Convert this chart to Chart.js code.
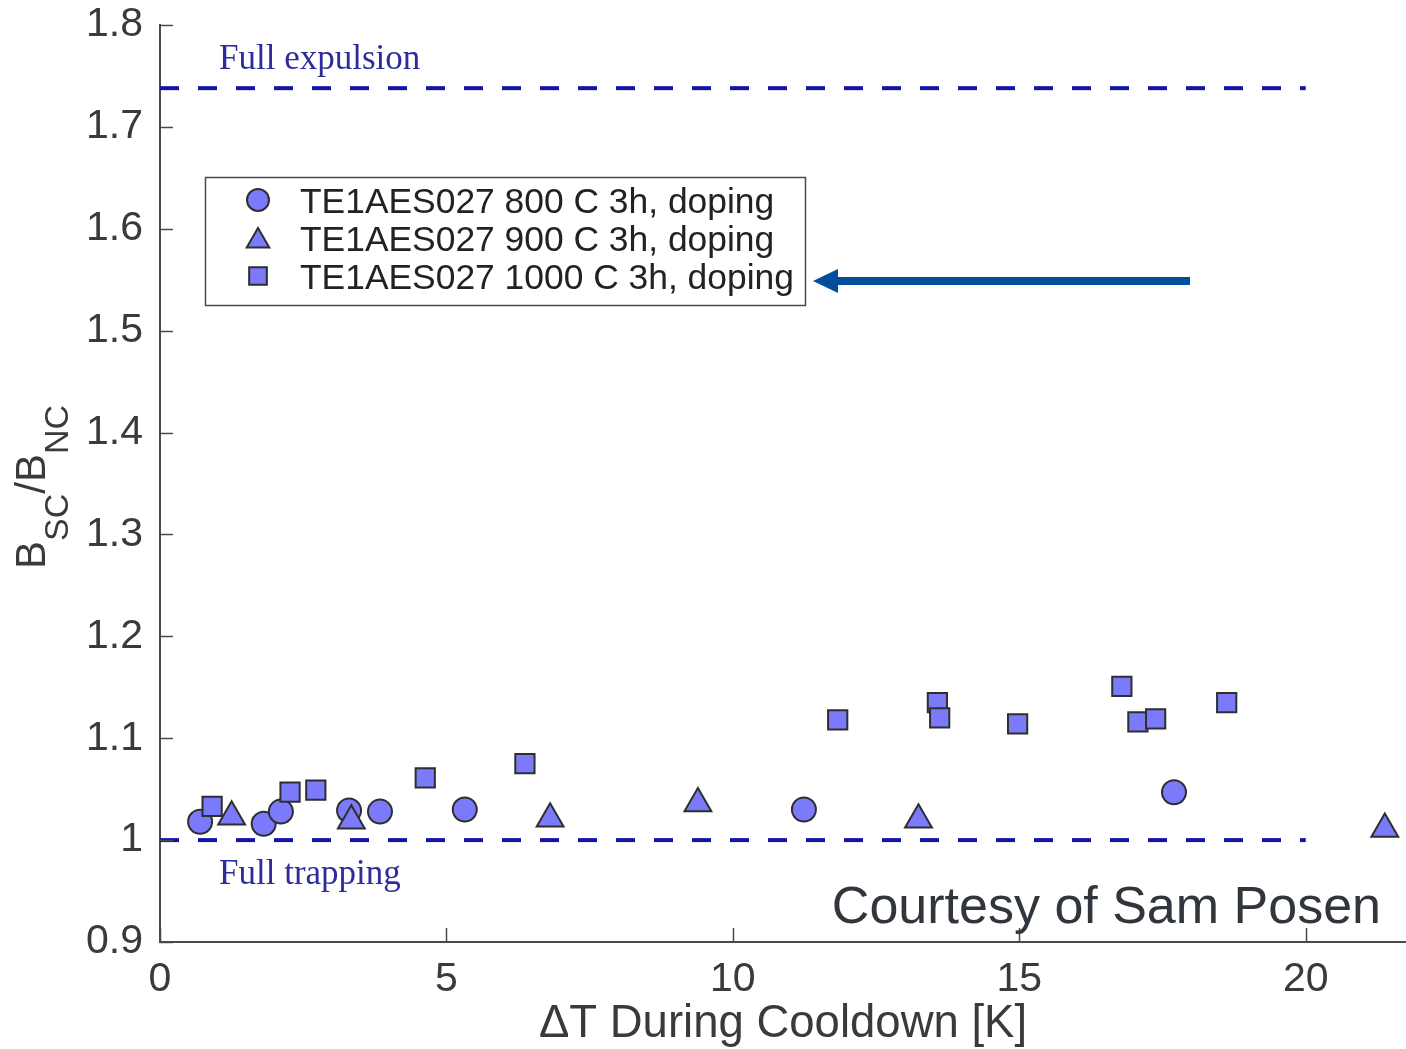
<!DOCTYPE html>
<html>
<head>
<meta charset="utf-8">
<script src="https://cdn.jsdelivr.net/npm/chart.js@4.4.0/dist/chart.umd.min.js"></script>
<style>
html,body{margin:0;padding:0;background:#ffffff;overflow:hidden}
#wrap{width:1406px;height:1049px;position:relative}
</style>
</head>
<body>
<div id="wrap"><canvas id="c"></canvas></div>
<script>
// ---------------- data ----------------
const seriesNames = ['TE1AES027 800 C 3h, doping', 'TE1AES027 900 C 3h, doping', 'TE1AES027 1000 C 3h, doping'];
const x800  = [0.70, 1.81, 2.11, 3.30, 3.84, 5.32, 11.24, 17.70];
const y800  = [1.018, 1.016, 1.028, 1.029, 1.028, 1.030, 1.030, 1.047];
const x900  = [1.25, 3.34, 6.81, 9.39, 13.24, 21.38];
const y900  = [1.023, 1.019, 1.021, 1.036, 1.020, 1.011];
const x1000 = [0.91, 2.27, 2.72, 4.63, 6.37, 11.83, 13.57, 13.61, 14.97, 16.79, 17.07, 17.38, 18.62];
const y1000 = [1.033, 1.047, 1.049, 1.061, 1.075, 1.118, 1.135, 1.120, 1.114, 1.151, 1.116, 1.119, 1.135];
const expulsionLevel = 1.738;
const trappingLevel = 1.0;
const refLineX = [0, 20];
const xTickValues = [0, 5, 10, 15, 20];
const xTickLabels = ['0', '5', '10', '15', '20'];
const yTickValues = [0.9, 1.0, 1.1, 1.2, 1.3, 1.4, 1.5, 1.6, 1.7, 1.8];
const yTickLabels = ['0.9', '1', '1.1', '1.2', '1.3', '1.4', '1.5', '1.6', '1.7', '1.8'];
const xAxisTitle = '\u0394T During Cooldown [K]';
const expulsionText = 'Full expulsion';
const trappingText = 'Full trapping';
const creditText = 'Courtesy of Sam Posen';

// ---------------- styling ----------------
const FILL = 'rgb(122,122,250)';
const EDGE = '#2e2e2e';
const DASH = '#1414a6';
const AXIS = '#4a4a4a';
const TXT = '#3a3a3a';

const zip = (xs, ys) => xs.map((x, i) => ({x: x, y: ys[i]}));

const pointStyles = ['circle', 'triangle', 'rect'];

const datasets = [
  {label: seriesNames[0], data: zip(x800, y800), pointStyle: 'circle', pointRadius: 12, order: 3},
  {label: seriesNames[1], data: zip(x900, y900), pointStyle: 'triangle', pointRadius: 15.5, order: 2},
  {label: seriesNames[2], data: zip(x1000, y1000), pointStyle: 'rect', pointRadius: 13.6, order: 1}
].map(d => Object.assign(d, {
  type: 'scatter', backgroundColor: FILL, borderColor: EDGE, pointBorderWidth: 2,
  pointHoverRadius: d.pointRadius, showLine: false
}));

const refLine = (lvl) => ({
  type: 'line', label: '', data: refLineX.map(x => ({x: x, y: lvl})),
  borderColor: DASH, borderWidth: 4, borderDash: [19, 19], pointRadius: 0,
  fill: false, order: 10, showLine: true
});
datasets.push(refLine(expulsionLevel));
datasets.push(refLine(trappingLevel));

function drawMarker(ctx, style, x, y, r) {
  ctx.save();
  ctx.fillStyle = FILL; ctx.strokeStyle = EDGE; ctx.lineWidth = 2;
  ctx.beginPath();
  if (style === 'circle') {
    ctx.arc(x, y, r, 0, Math.PI * 2);
  } else if (style === 'triangle') {
    for (let k = 0; k < 3; k++) {
      const a = k * 2 * Math.PI / 3;
      const px = x + Math.sin(a) * r, py = y - Math.cos(a) * r;
      if (k === 0) ctx.moveTo(px, py); else ctx.lineTo(px, py);
    }
    ctx.closePath();
  } else {
    const s = r * Math.SQRT1_2;
    ctx.rect(x - s, y - s, 2 * s, 2 * s);
  }
  ctx.fill(); ctx.stroke();
  ctx.restore();
}

const decorations = {
  id: 'decorations',
  afterDraw(chart) {
    const ctx = chart.ctx;
    const xs = chart.scales.x, ys = chart.scales.y;
    const area = chart.chartArea;
    ctx.save();
    // inward tick marks
    ctx.strokeStyle = AXIS; ctx.lineWidth = 1.5;
    yTickValues.forEach(v => {
      const py = Math.round(ys.getPixelForValue(v)) + 0.5;
      ctx.beginPath(); ctx.moveTo(area.left, py); ctx.lineTo(area.left + 13, py); ctx.stroke();
    });
    xTickValues.forEach(v => {
      const px = Math.round(xs.getPixelForValue(v)) + 0.5;
      ctx.beginPath(); ctx.moveTo(px, area.bottom); ctx.lineTo(px, area.bottom - 14); ctx.stroke();
    });

    // reference line captions
    ctx.fillStyle = '#2c2c9c';
    ctx.font = '35px "Liberation Serif", "DejaVu Serif", serif';
    ctx.textAlign = 'left'; ctx.textBaseline = 'alphabetic';
    ctx.fillText(expulsionText, 219, ys.getPixelForValue(expulsionLevel) - 19);
    ctx.fillText(trappingText, 219, ys.getPixelForValue(trappingLevel) + 44);

    // credit
    ctx.fillStyle = '#30363b';
    ctx.font = '52px "Liberation Sans", Arial, sans-serif';
    ctx.textAlign = 'right';
    ctx.fillText(creditText, 1381, 923);

    // legend box
    ctx.fillStyle = '#ffffff';
    ctx.fillRect(205, 177, 600, 128);
    ctx.strokeStyle = '#4a4a4a'; ctx.lineWidth = 1.5;
    ctx.strokeRect(205.5, 177.5, 600, 128);
    const rows = [200, 238, 276];
    const legR = [11, 13, 12.5];
    ctx.font = '35.4px "Liberation Sans", Arial, sans-serif';
    ctx.textAlign = 'left'; ctx.textBaseline = 'alphabetic';
    seriesNames.forEach((name, i) => {
      drawMarker(ctx, pointStyles[i], 258, rows[i] + (i === 1 ? 3 : 0), legR[i]);
      ctx.fillStyle = '#222222';
      ctx.fillText(name, 300, rows[i] + 12.5);
    });

    // arrow
    ctx.fillStyle = '#034e9a';
    ctx.fillRect(836, 277, 354, 8);
    ctx.beginPath();
    ctx.moveTo(813, 281); ctx.lineTo(838, 269); ctx.lineTo(838, 293); ctx.closePath();
    ctx.fill();

    // y axis title B_SC / B_NC (rotated)
    ctx.translate(45, 569);
    ctx.rotate(-Math.PI / 2);
    ctx.fillStyle = TXT;
    const big = '42px "Liberation Sans", Arial, sans-serif';
    const small = '34px "Liberation Sans", Arial, sans-serif';
    const parts = [['B', big, 0], ['SC', small, 23], ['/B', big, 0], ['NC', small, 23]];
    let cx = 0;
    parts.forEach(p => {
      ctx.font = p[1];
      ctx.fillText(p[0], cx, p[2]);
      cx += ctx.measureText(p[0]).width;
    });
    ctx.restore();
  }
};

const tickFont = {family: '"Liberation Sans", Arial, sans-serif', size: 41};

new Chart(document.getElementById('c'), {
  data: {datasets: datasets},
  options: {
    responsive: true,
    maintainAspectRatio: false,
    animation: false,
    layout: {padding: {top: 25, left: 0, right: 0, bottom: 0}, autoPadding: false},
    plugins: {legend: {display: false}, tooltip: {enabled: false}},
    scales: {
      x: {
        type: 'linear', position: 'bottom', min: 0, max: 21.75,
        grid: {display: false},
        border: {display: true, color: AXIS, width: 2},
        ticks: {color: TXT, font: tickFont, padding: 5, maxRotation: 0,
          callback: (v) => { const i = xTickValues.indexOf(v); return i >= 0 ? xTickLabels[i] : ''; }},
        afterBuildTicks: (s) => { s.ticks = xTickValues.map(v => ({value: v})); },
        afterFit: (s) => { s.height = 107; s.paddingLeft = 0; s.paddingRight = 0; },
        title: {display: true, text: xAxisTitle, color: TXT,
          font: {family: '"Liberation Sans", Arial, sans-serif', size: 45.5, lineHeight: 1},
          padding: {top: 0, bottom: 2}}
      },
      y: {
        type: 'linear', position: 'left', min: 0.9, max: 1.8,
        grid: {display: false},
        border: {display: true, color: AXIS, width: 2},
        ticks: {color: TXT, font: tickFont, padding: 9,
          callback: (v) => { const i = yTickValues.findIndex(t => Math.abs(t - v) < 1e-9); return i >= 0 ? yTickLabels[i] : ''; }},
        afterBuildTicks: (s) => { s.ticks = yTickValues.map(v => ({value: v})); },
        afterFit: (s) => { s.width = 160; s.paddingTop = 0; s.paddingBottom = 0; }
      }
    }
  },
  plugins: [decorations]
});
</script>
</body>
</html>
